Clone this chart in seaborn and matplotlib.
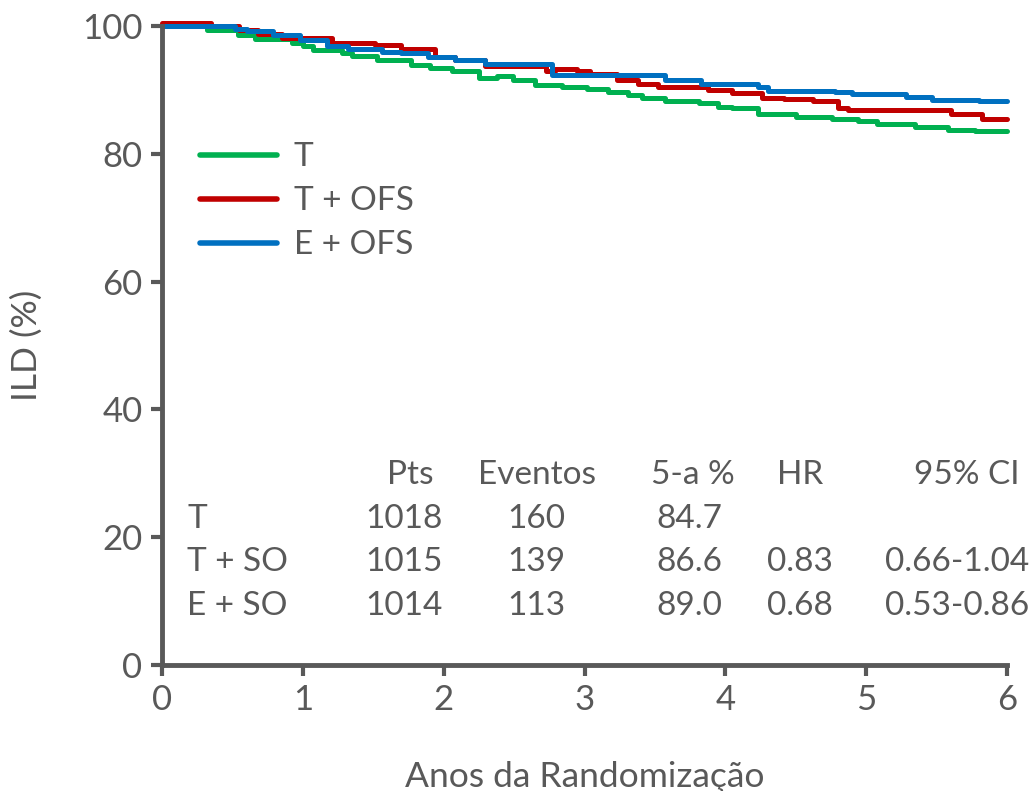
import numpy as np
import pandas as pd
import matplotlib
matplotlib.use("Agg")
import matplotlib.pyplot as plt
import seaborn as sns

# ---- data ----
groups = ["T", "T + OFS", "E + OFS"]
colors = ["#00B050", "#C00000", "#0070C0"]

t_T = [0, 0.32, 0.54, 0.66, 0.92, 1.00, 1.07, 1.28, 1.35, 1.53, 1.77, 1.90, 2.06, 2.25, 2.38, 2.49,
       2.65, 2.84, 3.02, 3.17, 3.31, 3.41, 3.57, 3.81, 3.95, 4.05, 4.23, 4.50, 4.57, 4.76, 4.94,
       5.08, 5.35, 5.58, 5.77, 6.00]
s_T = [100, 99.4, 98.6, 98.0, 97.3, 96.9, 96.2, 95.7, 95.3, 94.7, 93.9, 93.5, 92.9, 91.9, 92.2, 91.5,
       90.8, 90.5, 90.2, 89.7, 89.2, 88.7, 88.2, 87.9, 87.4, 87.1, 86.3, 85.8, 85.7, 85.5, 85.1,
       84.6, 84.2, 83.8, 83.5, 83.5]

t_TO = [0, 0.35, 0.55, 0.68, 0.85, 1.21, 1.51, 1.70, 1.94, 2.08, 2.29, 2.73, 2.79, 2.95, 3.04,
        3.23, 3.38, 3.52, 3.88, 4.05, 4.26, 4.42, 4.62, 4.80, 4.87, 5.60, 5.82, 6.00]
s_TO = [100.5, 100.0, 99.4, 98.8, 98.2, 97.4, 97.0, 96.4, 95.2, 94.7, 93.8, 93.0, 93.3, 92.9, 92.5,
        91.5, 91.0, 90.4, 90.0, 89.5, 88.7, 88.5, 88.2, 87.2, 86.9, 86.3, 85.5, 85.5]

t_EO = [0, 0.52, 0.60, 0.79, 0.98, 1.17, 1.32, 1.56, 1.70, 1.89, 2.08, 2.29, 2.77, 3.57, 3.83,
        4.23, 4.30, 4.78, 4.90, 5.28, 5.47, 5.80, 6.00]
s_EO = [100, 99.5, 99.2, 98.6, 97.8, 96.9, 96.4, 95.9, 95.7, 95.2, 94.7, 94.1, 92.4, 91.5, 91.0,
        90.5, 89.8, 89.6, 89.4, 88.9, 88.4, 88.2, 88.2]

x_ticks = [0, 1, 2, 3, 4, 5, 6]
y_ticks = [0, 20, 40, 60, 80, 100]

tbl_header = ["Pts", "Eventos", "5-a %", "HR", "95% CI"]
tbl_rows = ["T", "T + SO", "E + SO"]
tbl_pts = ["1018", "1015", "1014"]
tbl_events = ["160", "139", "113"]
tbl_5y = ["84.7", "86.6", "89.0"]
tbl_hr = ["", "0.83", "0.68"]
tbl_ci = ["", "0.66-1.04", "0.53-0.86"]

# ---- style ----
sns.set_style("ticks")
plt.rcParams['font.family'] = ['Lato', 'DejaVu Sans']
gray = "#595959"
fs = 24
fs_tick = 25
fs_lab = 25.5

df = pd.concat([
    pd.DataFrame({"t": t_T, "s": s_T, "g": groups[0]}),
    pd.DataFrame({"t": t_TO, "s": s_TO, "g": groups[1]}),
    pd.DataFrame({"t": t_EO, "s": s_EO, "g": groups[2]}),
], ignore_index=True)

fig = plt.figure(figsize=(10.34, 7.91), dpi=100)
ax = fig.add_axes([162/1034, 1-665/791, 845/1034, 639/791])

sns.lineplot(data=df, x="t", y="s", hue="g", palette=dict(zip(groups, colors)),
             estimator=None, sort=False, drawstyle="steps-post", linewidth=3.6,
             ax=ax, clip_on=False, legend=True)

ax.set_xlim(0, 6)
ax.set_ylim(0, 100)
ax.set_xticks(x_ticks)
ax.set_yticks(y_ticks)
ax.tick_params(axis="both", direction="out", length=8, width=3, color=gray,
               labelcolor=gray, labelsize=fs_tick, pad=6)
for side in ["top", "right"]:
    ax.spines[side].set_visible(False)
for side in ["left", "bottom"]:
    ax.spines[side].set_color(gray)
    ax.spines[side].set_linewidth(3.5)

ax.set_xlabel("Anos da Randomização", fontsize=fs_lab, color=gray, labelpad=32)
ax.set_ylabel("ILD (%)", fontsize=fs_lab, color=gray, labelpad=28)

handles, labels = ax.get_legend_handles_labels()
leg = ax.legend(handles, labels, loc="upper left", bbox_to_anchor=(0.01, 0.865),
                frameon=False, fontsize=fs, handlelength=2.3, handletextpad=0.5,
                labelspacing=0.42)
for h in leg.get_lines():
    h.set_linewidth(4)
for txt in leg.get_texts():
    txt.set_color(gray)

# ---- table ----
y_head = 29.7
y_rows = [22.8, 16.1, 9.2]
ax.text(1.76, y_head, tbl_header[0], ha="center", va="center", fontsize=fs, color=gray)
ax.text(2.66, y_head, tbl_header[1], ha="center", va="center", fontsize=fs, color=gray)
ax.text(4.07, y_head, tbl_header[2], ha="right", va="center", fontsize=fs, color=gray)
ax.text(4.53, y_head, tbl_header[3], ha="center", va="center", fontsize=fs, color=gray)
ax.text(6.09, y_head, tbl_header[4], ha="right", va="center", fontsize=fs, color=gray, clip_on=False)
for i, y in enumerate(y_rows):
    ax.text(0.18, y, tbl_rows[i], ha="left", va="center", fontsize=fs, color=gray)
    ax.text(1.72, y, tbl_pts[i], ha="center", va="center", fontsize=fs, color=gray)
    ax.text(2.66, y, tbl_events[i], ha="center", va="center", fontsize=fs, color=gray)
    ax.text(3.98, y, tbl_5y[i], ha="right", va="center", fontsize=fs, color=gray)
    ax.text(4.53, y, tbl_hr[i], ha="center", va="center", fontsize=fs, color=gray)
    ax.text(6.16, y, tbl_ci[i], ha="right", va="center", fontsize=fs, color=gray, clip_on=False)

fig.savefig("out.png", dpi=100)
